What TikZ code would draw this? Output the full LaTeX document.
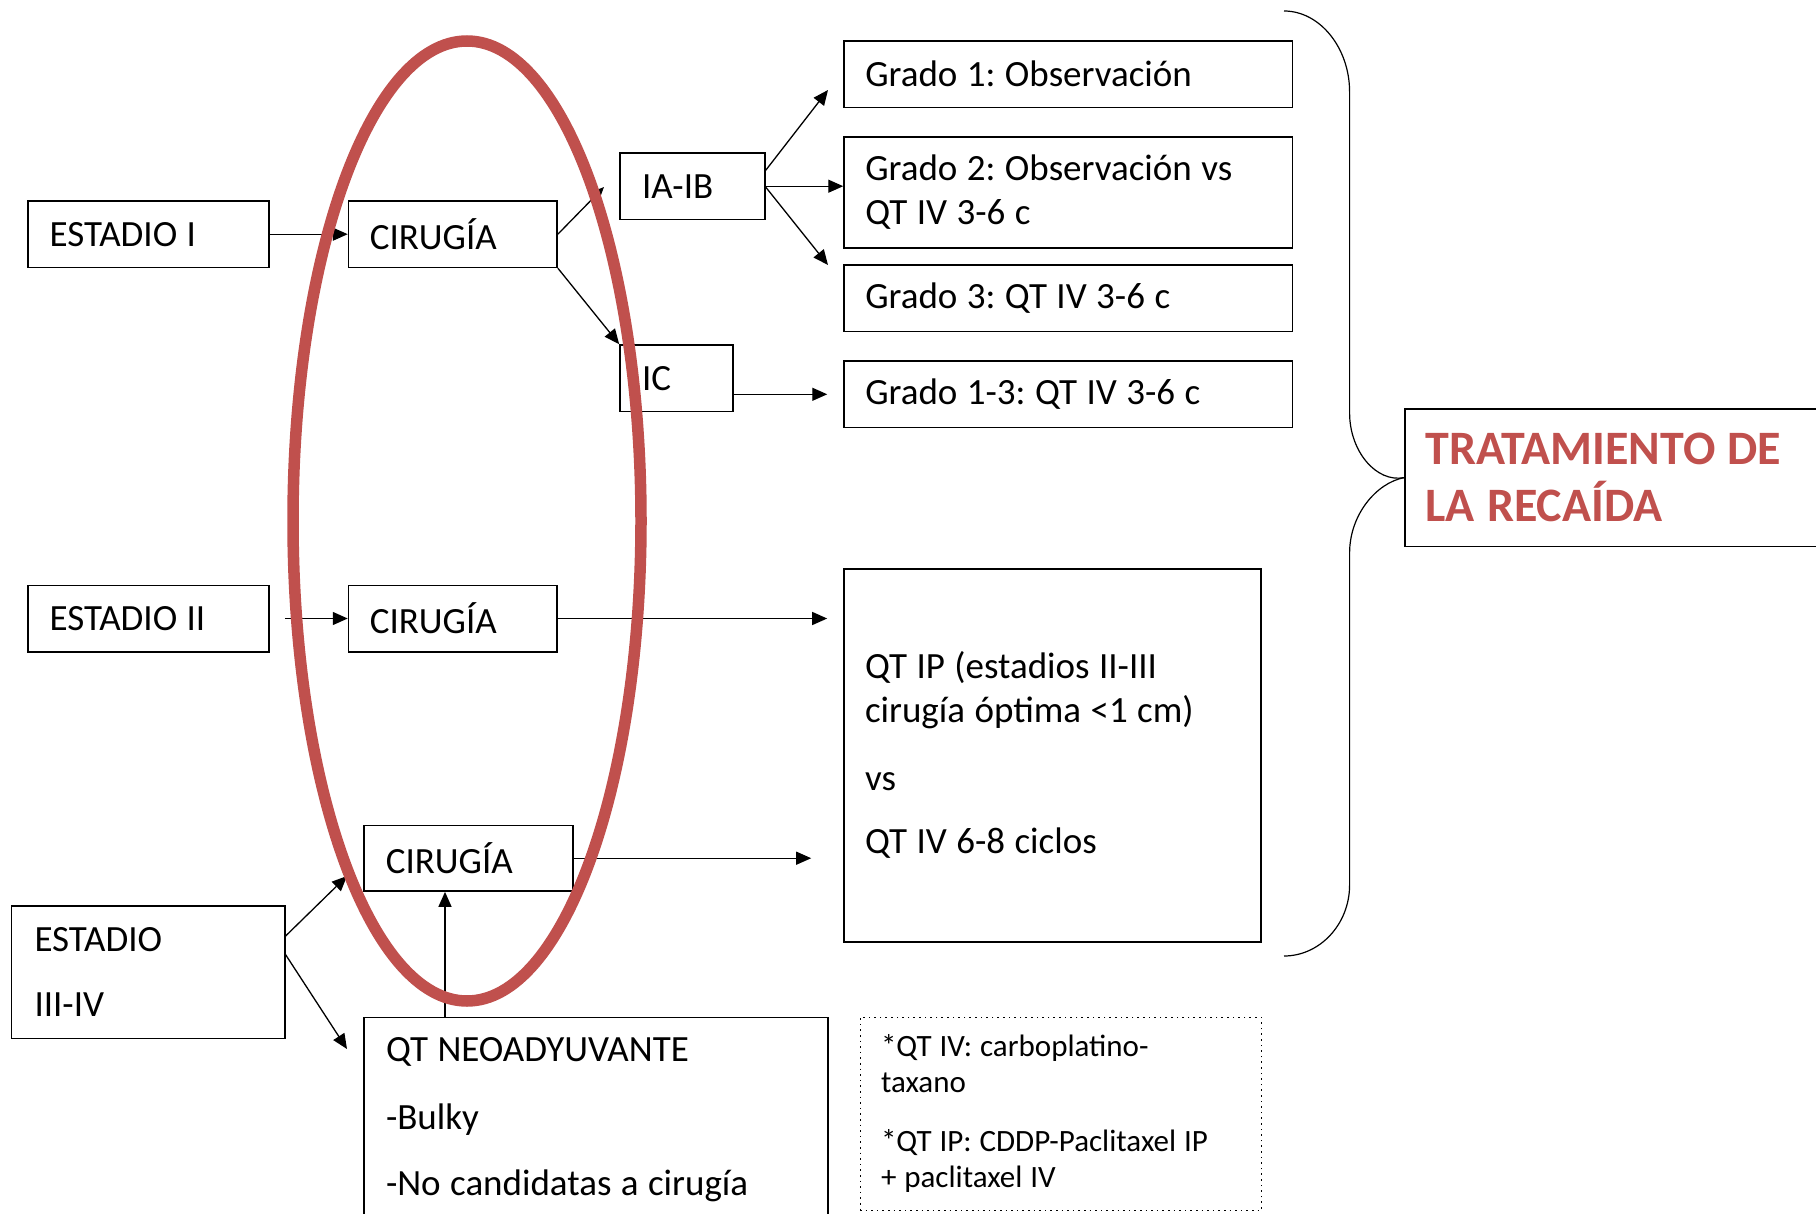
\documentclass[tikz,border=0pt]{standalone}
\usepackage{fontspec}
\setmainfont{Carlito}
\usetikzlibrary{arrows.meta,calc}
\definecolor{ovalred}{RGB}{192,80,77}
\frenchspacing
\newcommand{\tightspace}{\spaceskip=0.255em plus 0.05em\xspaceskip=0.255em\relax}
\begin{document}
\begin{tikzpicture}[x=0.5pt,y=-0.5pt,
  box/.style={draw, line width=0.8pt, inner sep=0pt, align=left, font=\frenchspacing\fontsize{18.5}{22}\selectfont, execute at begin node=\tightspace},
  arr/.style={line width=0.65pt, -{Triangle[length=7.5pt,width=6.5pt]}},
  brace/.style={line width=0.6pt},
  oval/.style={draw=ovalred, line width=5.75pt}]
\useasboundingbox (0,0) rectangle (1816,1214);

% left column
\node[box, minimum width=120.5pt, minimum height=33.2pt, text width=98.5pt] (e1) at (148.2,234.2) {ESTADIO I};
\node[box, minimum width=120.5pt, minimum height=33.2pt, text width=98.5pt] (e2) at (148.2,618.5) {ESTADIO II};
\node[box, minimum width=136.6pt, minimum height=66.3pt, text width=113.6pt] (e3) at (148.1,972.1) {ESTADIO\\[10.7pt]III-IV};

% surgery
\node[box, minimum width=104.25pt, minimum height=33.2pt, text width=83pt] (c1) at (452.8,234.2) {CIRUGÍA};
\node[box, minimum width=104.25pt, minimum height=33.2pt, text width=83pt] (c2) at (452.8,618.5) {CIRUGÍA};
\node[box, minimum width=104.5pt, minimum height=32.85pt, text width=82.7pt] (c3) at (468.5,858.2) {CIRUGÍA};
\node[box, minimum width=232pt, minimum height=102.4pt, text width=210pt] (qn) at (596,1120) {QT NEOADYUVANTE\\[12pt]-Bulky\\[11pt]-No candidatas a cirugía};

% substages
\node[box, minimum width=72.5pt, minimum height=33.2pt, text width=50.5pt] (iaib) at (692.5,186.2) {IA-IB};
\node[box, minimum width=56.5pt, minimum height=33.2pt, text width=34.5pt] (ic) at (676.5,378.2) {IC};

% grades
\node[box, minimum width=224.25pt, minimum height=33.2pt, text width=203pt] (g1) at (1068.3,74.3) {Grado 1: Observación};
\node[box, minimum width=224.25pt, minimum height=55.5pt, text width=203pt] (g2) at (1068.3,192.5) {Grado 2: Observación vs\\QT IV 3-6 c};
\node[box, minimum width=224.25pt, minimum height=33.2pt, text width=203pt] (g3) at (1068.3,298.2) {Grado 3: QT IV 3-6 c};
\node[box, minimum width=224.25pt, minimum height=33.2pt, text width=203pt] (g13) at (1068.3,394.3) {Grado 1-3: QT IV 3-6 c};

\node[box, minimum width=208.5pt, minimum height=186.4pt, text width=187.5pt] (qtip) at (1052.5,755.4) {QT IP (estadios II-III\\cirugía óptima <1 cm)\\[11.8pt]vs\\[9.7pt]QT IV 6-8 ciclos};

\node[box, dotted, line width=0.5pt, minimum width=200.5pt, minimum height=96.85pt, text width=179.5pt, font=\frenchspacing\fontsize{15.5}{18}\selectfont] (note) at (1060.5,1113.9) {*QT IV: carboplatino-\\taxano\\[11.5pt]*QT IP: CDDP-Paclitaxel IP\\+ paclitaxel IV};

\node[box, minimum width=222.5pt, minimum height=68.9pt, text width=202pt, text=ovalred, font=\frenchspacing\fontsize{24}{28.7}\selectfont\bfseries] (tr) at (1627.5,477.6) {TRATAMIENTO DE\\LA RECAÍDA};

% connectors
\coordinate (t1) at (604,187);
\coordinate (t2) at (828,90);
\coordinate (t3) at (828,265);
\coordinate (t4) at (347,876);
\coordinate (t5) at (347,1049);
\coordinate (up) at (445,1017.6);
\draw[arr] (e1.east) -- (c1.west);
\draw[arr] (c1.east) -- (t1);
\draw[arr] (c1.south east) -- (ic.north west);
\draw[arr] ($(iaib.east)+(0,-16)$) -- (t2);
\draw[arr] (iaib.east) -- (iaib.east -| g2.west);
\draw[arr] ($(iaib.east)+(0,1)$) -- (t3);
\draw[arr, shorten >=8pt] (ic.east |- g13.west) -- (g13.west);
\draw[arr, shorten <=7.7pt] (e2.east) -- (c2.west);
\draw[arr, shorten >=8pt] (c2.east) -- (c2.east -| qtip.west);
\draw[arr, shorten >=16pt] (c3.east) -- (c3.east -| qtip.west);
\draw[arr] ($(e3.east)+(0,-36)$) -- (t4);
\draw[arr] ($(e3.east)+(0,-17.6)$) -- (t5);
\draw[arr] (up) -- (up |- c3.south);

% brace
\draw[brace] (1284,11) .. controls (1320,11) and (1349.6,48) .. (1349.6,92)
  -- (1349.6,413) .. controls (1349.6,451) and (1376,483) .. (tr.west);
\draw[brace] (tr.west) .. controls (1376,483) and (1349.6,515) .. (1349.6,553)
  -- (1349.6,885) .. controls (1349.6,924) and (1320,956) .. (1284,956);

% red oval
\draw[oval] (467,521) ellipse [x radius=87pt, y radius=240pt];
\end{tikzpicture}
\end{document}
